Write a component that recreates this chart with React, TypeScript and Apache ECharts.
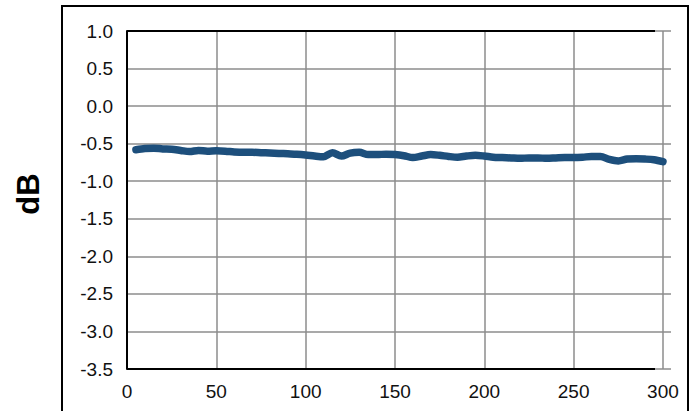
import React, { useEffect, useRef } from "react";
import * as echarts from "echarts";

const xValues = [5, 10, 15, 20, 25, 30, 35, 40, 45, 50, 55, 60, 65, 70, 75, 80, 85, 90, 95, 100, 105, 110, 115, 120, 125, 130, 135, 140, 145, 150, 155, 160, 165, 170, 175, 180, 185, 190, 195, 200, 205, 210, 215, 220, 225, 230, 235, 240, 245, 250, 255, 260, 265, 270, 275, 280, 285, 290, 295, 300];
const dbValues = [-0.58, -0.565, -0.56, -0.57, -0.575, -0.59, -0.605, -0.59, -0.6, -0.595, -0.6, -0.61, -0.615, -0.615, -0.62, -0.625, -0.63, -0.635, -0.64, -0.65, -0.665, -0.675, -0.62, -0.665, -0.625, -0.615, -0.645, -0.645, -0.64, -0.645, -0.66, -0.685, -0.665, -0.645, -0.655, -0.67, -0.68, -0.665, -0.655, -0.665, -0.68, -0.685, -0.69, -0.695, -0.69, -0.69, -0.695, -0.69, -0.685, -0.685, -0.68, -0.67, -0.67, -0.71, -0.73, -0.705, -0.7, -0.705, -0.715, -0.74];
const xTicks = [0, 50, 100, 150, 200, 250, 300];
const yLabel = "dB";

export default function App() {
  const ref = useRef<HTMLDivElement>(null);
  useEffect(() => {
    document.body.style.margin = "0";
    const chart = echarts.init(ref.current!, null, { renderer: "svg" });
    const font = "'Liberation Sans', Arial, sans-serif";
    chart.setOption({
      animation: false,
      backgroundColor: "#ffffff",
      grid: { left: 127, top: 31, width: 544, height: 338, containLabel: false },
      xAxis: {
        type: "value",
        min: 0,
        max: 304.5,
        axisLine: { show: false },
        axisTick: { show: false, customValues: xTicks },
        axisLabel: {
          customValues: xTicks,
          color: "#111",
          fontSize: 19,
          fontFamily: font,
          margin: 13,
        },
        splitLine: { show: true, lineStyle: { color: "#8c8c8c", width: 1.5 } },
      },
      yAxis: {
        type: "value",
        min: -3.5,
        max: 1.0,
        interval: 0.5,
        axisLine: { show: true, lineStyle: { color: "#000", width: 2 } },
        axisTick: { show: false },
        axisLabel: {
          color: "#111",
          fontSize: 19,
          fontFamily: font,
          margin: 14,
          formatter: (v: number) => v.toFixed(1),
        },
        splitLine: { show: true, lineStyle: { color: "#8c8c8c", width: 1.5 } },
      },
      graphic: [
        {
          type: "rect",
          shape: { x: 62, y: 6, width: 626, height: 430 },
          style: { fill: "none", stroke: "#000", lineWidth: 2 },
          z: 100,
        },
        {
          type: "line",
          shape: { x1: 127, y1: 31, x2: 655, y2: 31 },
          style: { stroke: "#000", lineWidth: 2 },
          z: 100,
        },
        {
          type: "line",
          shape: { x1: 127, y1: 369, x2: 655, y2: 369 },
          style: { stroke: "#000", lineWidth: 2 },
          z: 100,
        },
        {
          type: "text",
          x: 28,
          y: 194,
          rotation: Math.PI / 2,
          style: {
            text: yLabel,
            fill: "#000",
            font: "bold 31px 'Liberation Sans', Arial, sans-serif",
            align: "center",
            verticalAlign: "middle",
          },
          z: 100,
        },
      ],
      series: [
        {
          type: "line",
          data: xValues.map((x, i) => [x, dbValues[i]]),
          showSymbol: false,
          smooth: 0.3,
          lineStyle: { color: "#1d4f7c", width: 7.5, cap: "round", join: "round" },
          z: 5,
        },
      ],
    });
    return () => chart.dispose();
  }, []);
  return <div ref={ref} style={{ width: 694, height: 411 }} />;
}
